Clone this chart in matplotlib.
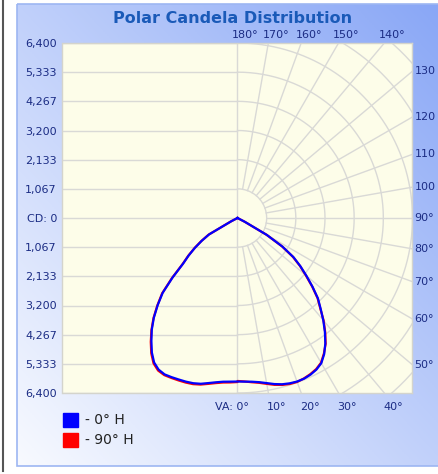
import numpy as np
import matplotlib
matplotlib.use("Agg")
import matplotlib.pyplot as plt
from matplotlib.patches import Rectangle

# vertical angle from nadir (deg) and candela per half-plane
angles = [0, 2.5, 5, 7.5, 10, 12.5, 15, 17.5, 20, 22.5, 25, 27.5, 30, 32.5, 35, 37.5,
          40, 42.5, 45, 47.5, 50, 52.5, 55, 57.5, 60, 62.5, 65, 70, 80, 90]
cd_0h_right = [5980, 5990, 6010, 6055, 6130, 6220, 6295, 6340, 6365, 6360, 6320, 6250,
               6130, 5900, 5600, 5250, 4880, 4500, 4160, 3720, 3290, 2900, 2500, 1950,
               1240, 300, 0, 0, 0, 0]
cd_0h_left = [5980, 5990, 6010, 6060, 6130, 6210, 6255, 6275, 6285, 6300, 6310, 6250,
              6100, 5830, 5490, 5150, 4760, 4320, 3870, 3220, 2600, 2250, 1900, 1550,
              1200, 250, 0, 0, 0, 0]
cd_90h_right = [5960, 5985, 6030, 6080, 6160, 6250, 6320, 6365, 6380, 6350, 6300, 6230,
                6110, 5880, 5620, 5270, 4900, 4480, 4140, 3700, 3260, 2880, 2470, 1930,
                1220, 280, 0, 0, 0, 0]
cd_90h_left = [6000, 6020, 6040, 6090, 6160, 6240, 6290, 6310, 6320, 6330, 6340, 6290,
               6140, 5870, 5530, 5170, 4780, 4340, 3900, 3250, 2620, 2270, 1920, 1570,
               1220, 260, 0, 0, 0, 0]

cd_max = 6400
cd_labels = ["6,400", "5,333", "4,267", "3,200", "2,133", "1,067", "CD: 0",
             "1,067", "2,133", "3,200", "4,267", "5,333", "6,400"]
top_angles = [180, 170, 160, 150, 140]
right_angles = [130, 120, 110, 100, 90, 80, 70, 60, 50]
right_labels = ["130", "120", "110", "100", "90°", "80°", "70°", "60°", "50°"]
bottom_angles = [0, 10, 20, 30, 40]

W, H = 439, 474
fig = plt.figure(figsize=(W / 100, H / 100), dpi=100)
fig.patch.set_facecolor("white")

# background panel in pixel coordinates
bg = fig.add_axes([0, 0, 1, 1])
bg.set_xlim(0, W)
bg.set_ylim(H, 0)
bg.axis("off")
px, py, pw, ph = 17, 4, 430, 462
gx, gy = np.meshgrid(np.linspace(0, 1, 200), np.linspace(0, 1, 200))
t = 0.5 * gx + 0.5 * (1 - gy)
c0 = np.array([248, 250, 255]) / 255
c1 = np.array([136, 166, 246]) / 255
img = c0[None, None, :] * (1 - t[..., None]) + c1[None, None, :] * t[..., None]
bg.imshow(img, extent=[px, px + pw, py + ph, py], aspect="auto", zorder=0)
bg.add_patch(Rectangle((px, py), pw, ph, fill=False, ec="#9db6f2", lw=1.2, zorder=1))
bg.plot([3.5, 3.5], [0, 471], color="#555555", lw=1.5, zorder=1)

bg.text(233, 18, "Polar Candela Distribution", ha="center", va="center",
        fontsize=11.5, fontweight="bold", color="#1a5ab8")

# legend
bg.add_patch(Rectangle((63, 413), 15, 14, color="#0000ff", zorder=2))
bg.add_patch(Rectangle((63, 433), 15, 14, color="#ff0000", zorder=2))
bg.text(85, 420.5, "- 0° H", ha="left", va="center", fontsize=10, color="#222222")
bg.text(85, 440.5, "- 90° H", ha="left", va="center", fontsize=10, color="#222222")

# polar area
cx, cy, half = 237.5, 218.0, 175.0
ax = fig.add_axes([(cx - half) / W, 1 - (cy + half) / H, 2 * half / W, 2 * half / H])
ax.set_facecolor("#fdfde9")
ax.set_xlim(-cd_max, cd_max)
ax.set_ylim(cd_max, -cd_max)
for s in ax.spines.values():
    s.set_color("#d4d4cc")
    s.set_linewidth(1)

step = cd_max / 6
gcol, glw = "#d9d9d6", 1.0
for k in range(-6, 7):
    ax.plot([-cd_max, 0], [k * step, k * step], color=gcol, lw=glw, zorder=1)
ax.plot([0, 0], [-cd_max, cd_max], color=gcol, lw=glw, zorder=1)
phi = np.radians(np.linspace(0, 180, 361))
for k in range(1, 10):
    r = k * step
    ax.plot(r * np.sin(phi), r * np.cos(phi), color=gcol, lw=glw, zorder=1)
for a in range(10, 180, 10):
    ar = np.radians(a)
    ax.plot([step * np.sin(ar), 12000 * np.sin(ar)],
            [step * np.cos(ar), 12000 * np.cos(ar)], color=gcol, lw=glw, zorder=1)


def trace(cd_left, cd_right):
    th = np.radians(np.array(angles, dtype=float))
    xl = -np.array(cd_left) * np.sin(th)
    yl = np.array(cd_left) * np.cos(th)
    xr = np.array(cd_right) * np.sin(th)
    yr = np.array(cd_right) * np.cos(th)
    return np.concatenate([xl[::-1], xr]), np.concatenate([yl[::-1], yr])


xs, ys = trace(cd_90h_left, cd_90h_right)
ax.plot(xs, ys, color="#ff0000", lw=1.6, zorder=3, solid_joinstyle="round")
xs, ys = trace(cd_0h_left, cd_0h_right)
ax.plot(xs, ys, color="#0000ff", lw=1.6, zorder=4, solid_joinstyle="round")

lab_col = "#1b2c84"
ax.set_yticks([k * step for k in range(-6, 7)], cd_labels)
ax.tick_params(axis="y", length=0, pad=4, labelsize=8, labelcolor=lab_col)
ax.set_xticks([])

for a in top_angles:
    xa = -cd_max * np.tan(np.radians(a))
    ax.annotate(f"{a}°", (xa, -cd_max), xytext=(-4, 2.5), textcoords="offset points",
                ha="left", va="bottom", fontsize=8, color=lab_col, annotation_clip=False)
for a, lab in zip(right_angles, right_labels):
    ya = cd_max / np.tan(np.radians(a)) if a != 90 else 0.0
    ax.annotate(lab, (cd_max, ya), xytext=(1.5, 0), textcoords="offset points",
                ha="left", va="center", fontsize=8, color=lab_col, annotation_clip=False)
for a in bottom_angles:
    xa = cd_max * np.tan(np.radians(a))
    if a == 0:
        ax.annotate("VA: 0°", (xa, cd_max), xytext=(8, -6.5), textcoords="offset points",
                    ha="right", va="top", fontsize=8, color=lab_col, annotation_clip=False)
    else:
        ax.annotate(f"{a}°", (xa, cd_max), xytext=(-1, -6.5), textcoords="offset points",
                    ha="left", va="top", fontsize=8, color=lab_col, annotation_clip=False)

fig.savefig("out.png", dpi=100)
